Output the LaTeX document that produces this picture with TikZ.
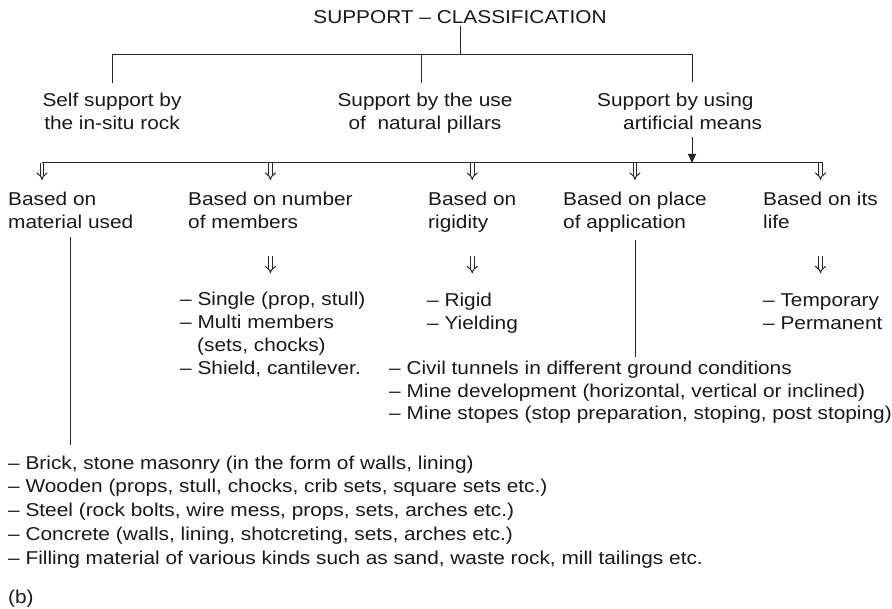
\documentclass[tikz,border=0pt]{standalone}
\usepackage{fontspec}
\setmainfont{Liberation Sans}[FakeStretch=1.12]
\usetikzlibrary{arrows.meta}

\begin{document}
\begin{tikzpicture}[
        x=1pt, y=-1pt,
        every node/.style={inner sep=0pt, text=black!90},
        txt/.style={
            anchor=base west,
            align=left,
            font=\fontsize{18.6}{23.5}\selectfont
        },
        heading/.style={txt, anchor=base, align=center},
        branch/.style={draw=black!85, line width=1pt},
        hollow/.style={draw=black!85, line width=1pt, double=white, double distance=2.8pt, -{Implies}},
        leadarrow/.style={branch, -{Triangle[length=9pt,width=8pt]}}
    ]
    \useasboundingbox (0,0) rectangle (892,609);

    % top of the tree (base = last line)
    \node[heading] (title) at (460,24) {SUPPORT -- CLASSIFICATION};
    \node[heading] (self) at (112,130) {Self support by\\the in-situ rock};
    \node[heading] (natural) at (425,130) {Support by the use\\of~ natural pillars};
    \node[txt] (artif) at (597,130) {Support by using\\\hspace*{26pt}artificial means};

    \coordinate (artx) at (692,55);
    \coordinate (busleft) at (42,163);
    \coordinate (busright) at (823,163);

    \draw[branch] (title.south) ++(0,2) -- (title.south |- artx);
    \draw[branch] (self.north) ++(0,-10) |- (artx) -- ++(0,27);
    \draw[branch] ([xshift=-4pt]natural.north) ++(0,-10) -- ([xshift=-4pt]natural.north |- artx);
    \draw[leadarrow, shorten <=7pt] (artx |- artif.south) -- (artx |- busleft);

    % artificial means, by type
    \node[txt] (material) at (8,229) {Based on\\material used};
    \node[txt] (members) at (188,229) {Based on number\\of members};
    \node[txt] (rigidity) at (428,229) {Based on\\rigidity};
    \node[txt] (place) at (563,229) {Based on place\\of application};
    \node[txt] (life) at (763,229) {Based on its\\life};

    \draw[branch] (busleft) -- (busright);
    \draw[hollow] (busleft) -- ++(0,17);
    \foreach \n in {members, rigidity, place, life}
        \draw[hollow] (\n.north |- busleft) -- ++(0,17);
    \foreach \n in {members, rigidity, life}
        \draw[hollow] (\n.north |- members.south) ++(0,27) -- ++(0,17);

    % lists
    \node[txt, font=\fontsize{18.6}{23.3}\selectfont] (memberlist) at (180,375) {-- Single (prop, stull)\\-- Multi members\\\hspace*{17pt}(sets, chocks)\\-- Shield, cantilever.};
    \node[txt] (rigidlist) at (427,330) {-- Rigid\\-- Yielding};
    \node[txt] (lifelist) at (763,330) {-- Temporary\\-- Permanent};
    \node[txt, font=\fontsize{18.6}{22.5}\selectfont] (placelist) at (389,420) {-- Civil tunnels in different ground conditions\\-- Mine development (horizontal, vertical or inclined)\\-- Mine stopes (stop preparation, stoping, post stoping)};
    \node[txt, font=\fontsize{18.6}{23.75}\selectfont] (materiallist) at (8,564) {-- Brick, stone masonry (in the form of walls, lining)\\-- Wooden (props, stull, chocks, crib sets, square sets etc.)\\-- Steel (rock bolts, wire mess, props, sets, arches etc.)\\-- Concrete (walls, lining, shotcreting, sets, arches etc.)\\-- Filling material of various kinds such as sand, waste rock, mill tailings etc.};
    \node[txt] (fig) at (8,603) {(b)};

    \draw[branch, shorten <=8pt, shorten >=10pt] (material.south) -- (material.south |- materiallist.north);
    \draw[branch, shorten <=7pt, shorten >=4pt] (place.south) -- (place.south |- placelist.north);
\end{tikzpicture}
\end{document}
